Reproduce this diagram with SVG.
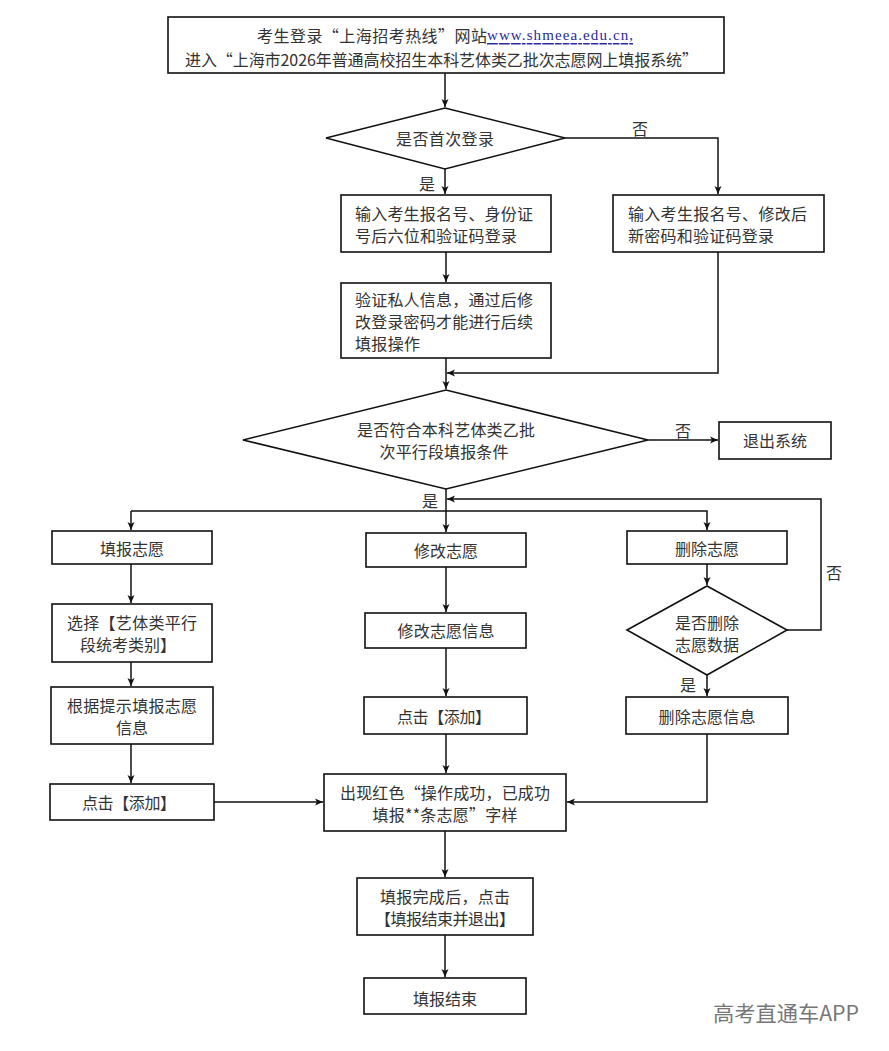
<svg xmlns="http://www.w3.org/2000/svg" width="889" height="1051" viewBox="0 0 889 1051">
<defs>
<style>
.bx{fill:#fff;stroke:#111;stroke-width:1.6}
.t{font-family:"Noto Sans CJK SC","Noto Sans",sans-serif;font-size:16px;fill:#333;dominant-baseline:central}
.c{text-anchor:middle}
.ln{fill:none;stroke:#111;stroke-width:1.5}
.url{font-family:"Liberation Serif",serif;font-size:15px;fill:#2a2aa0;text-decoration:underline;dominant-baseline:central}
.wm{font-family:"Noto Sans CJK SC","Noto Sans",sans-serif;font-size:21px;fill:#777;dominant-baseline:central}
</style>
<marker id="ar" markerWidth="9" markerHeight="8" refX="8" refY="4" orient="auto" markerUnits="userSpaceOnUse">
<path d="M0,0.5 L8,4 L0,7.5 L2,4 z" fill="#111"/>
</marker>
</defs>
<rect width="889" height="1051" fill="#fff"/>

<g id="connectors" class="ln" marker-end="url(#ar)">
<path d="M445,73 V107"/>
<path d="M445,169 V194"/>
<path d="M565,138 H718 V194"/>
<path d="M446,252 V282"/>
<path d="M446,358 V389"/>
<path d="M718,252 V373 H447"/>
<path d="M648,440 H718"/>
<path d="M446,489 V532"/>
<path d="M131,511 V530"/>
<path d="M131,511 H707 V530"/>
<path d="M787,630 H821 V499 H447"/>
<path d="M131,564 V603"/>
<path d="M131,662 V686"/>
<path d="M131,744 V783"/>
<path d="M214,802 H323"/>
<path d="M446,567 V612"/>
<path d="M446,648 V696"/>
<path d="M446,734 V773"/>
<path d="M707,564 V585"/>
<path d="M707,675 V696"/>
<path d="M707,734 V802 H567"/>
<path d="M445,831 V877"/>
<path d="M445,935 V977"/>
</g>

<g id="labels">
<text class="t c" x="640" y="128">否</text>
<text class="t c" x="427" y="183">是</text>
<text class="t c" x="683" y="430">否</text>
<text class="t c" x="430" y="500">是</text>
<text class="t c" x="834" y="572">否</text>
<text class="t c" x="688" y="684">是</text>
</g>

<g id="start">
<rect class="bx" x="168" y="17" width="556" height="56"/>
<text class="t" x="257" y="35" textLength="230" lengthAdjust="spacing">考生登录“上海招考热线”网站</text>
<text class="url" x="487" y="35" textLength="146" lengthAdjust="spacing">www.shmeea.edu.cn,</text>
<text class="t" x="185" y="59" textLength="513" lengthAdjust="spacing">进入“上海市2026年普通高校招生本科艺体类乙批次志愿网上填报系统”</text>
</g>

<g id="first-login">
<polygon class="bx" points="326,138 445,108 565,138 445,169"/>
<text class="t c" x="445" y="138" textLength="98" lengthAdjust="spacing">是否首次登录</text>
</g>

<g id="login-first">
<rect class="bx" x="341" y="195" width="210" height="57"/>
<text class="t" x="355" y="213" textLength="178" lengthAdjust="spacing">输入考生报名号、身份证</text>
<text class="t" x="355" y="235" textLength="162" lengthAdjust="spacing">号后六位和验证码登录</text>
</g>

<g id="login-again">
<rect class="bx" x="613" y="195" width="211" height="57"/>
<text class="t" x="628" y="213" textLength="179" lengthAdjust="spacing">输入考生报名号、修改后</text>
<text class="t" x="628" y="235" textLength="146" lengthAdjust="spacing">新密码和验证码登录</text>
</g>

<g id="verify">
<rect class="bx" x="341" y="283" width="210" height="75"/>
<text class="t" x="355" y="299" textLength="178" lengthAdjust="spacing">验证私人信息，通过后修</text>
<text class="t" x="355" y="321" textLength="178" lengthAdjust="spacing">改登录密码才能进行后续</text>
<text class="t" x="355" y="343" textLength="65" lengthAdjust="spacing">填报操作</text>
</g>

<g id="eligible">
<polygon class="bx" points="243,440 446,390 648,440 446,489"/>
<text class="t c" x="446" y="429" textLength="178" lengthAdjust="spacing">是否符合本科艺体类乙批</text>
<text class="t c" x="444" y="451" textLength="129" lengthAdjust="spacing">次平行段填报条件</text>
</g>

<g id="exit">
<rect class="bx" x="719" y="422" width="112" height="37"/>
<text class="t c" x="775" y="440">退出系统</text>
</g>

<g id="fill">
<rect class="bx" x="52" y="531" width="160" height="33"/>
<text class="t c" x="132" y="548">填报志愿</text>
</g>

<g id="select">
<rect class="bx" x="52" y="604" width="160" height="58"/>
<text class="t c" x="132" y="622" textLength="130" lengthAdjust="spacing">选择【艺体类平行</text>
<text class="t c" x="128" y="644" textLength="96" lengthAdjust="spacing">段统考类别】</text>
</g>

<g id="hint">
<rect class="bx" x="51" y="687" width="162" height="57"/>
<text class="t c" x="132" y="705" textLength="130" lengthAdjust="spacing">根据提示填报志愿</text>
<text class="t c" x="132" y="727">信息</text>
</g>

<g id="add-left">
<rect class="bx" x="50" y="784" width="164" height="36"/>
<text class="t c" x="129" y="802" textLength="94" lengthAdjust="spacing">点击【添加】</text>
</g>

<g id="modify">
<rect class="bx" x="366" y="533" width="160" height="34"/>
<text class="t c" x="446" y="550">修改志愿</text>
</g>

<g id="modify-info">
<rect class="bx" x="365" y="613" width="161" height="35"/>
<text class="t c" x="446" y="630" textLength="97" lengthAdjust="spacing">修改志愿信息</text>
</g>

<g id="add-mid">
<rect class="bx" x="364" y="697" width="163" height="37"/>
<text class="t c" x="444" y="716" textLength="94" lengthAdjust="spacing">点击【添加】</text>
</g>

<g id="delete">
<rect class="bx" x="627" y="531" width="160" height="33"/>
<text class="t c" x="707" y="548">删除志愿</text>
</g>

<g id="delete-confirm">
<polygon class="bx" points="627,630 707,586 787,630 707,675"/>
<text class="t c" x="707" y="622">是否删除</text>
<text class="t c" x="707" y="644">志愿数据</text>
</g>

<g id="delete-info">
<rect class="bx" x="626" y="697" width="162" height="37"/>
<text class="t c" x="707" y="716" textLength="97" lengthAdjust="spacing">删除志愿信息</text>
</g>

<g id="success">
<rect class="bx" x="324" y="774" width="242" height="57"/>
<text class="t c" x="445" y="792" textLength="210" lengthAdjust="spacing">出现红色“操作成功，已成功</text>
<text class="t c" x="445" y="814" textLength="145" lengthAdjust="spacing">填报**条志愿”字样</text>
</g>

<g id="finish">
<rect class="bx" x="357" y="878" width="176" height="57"/>
<text class="t c" x="445" y="896" textLength="130" lengthAdjust="spacing">填报完成后，点击</text>
<text class="t c" x="445" y="918" textLength="140" lengthAdjust="spacing">【填报结束并退出】</text>
</g>

<g id="end">
<rect class="bx" x="364" y="978" width="162" height="36"/>
<text class="t c" x="445" y="998">填报结束</text>
</g>

<text class="wm" x="713" y="1012" textLength="146" lengthAdjust="spacingAndGlyphs">高考直通车APP</text>
</svg>
